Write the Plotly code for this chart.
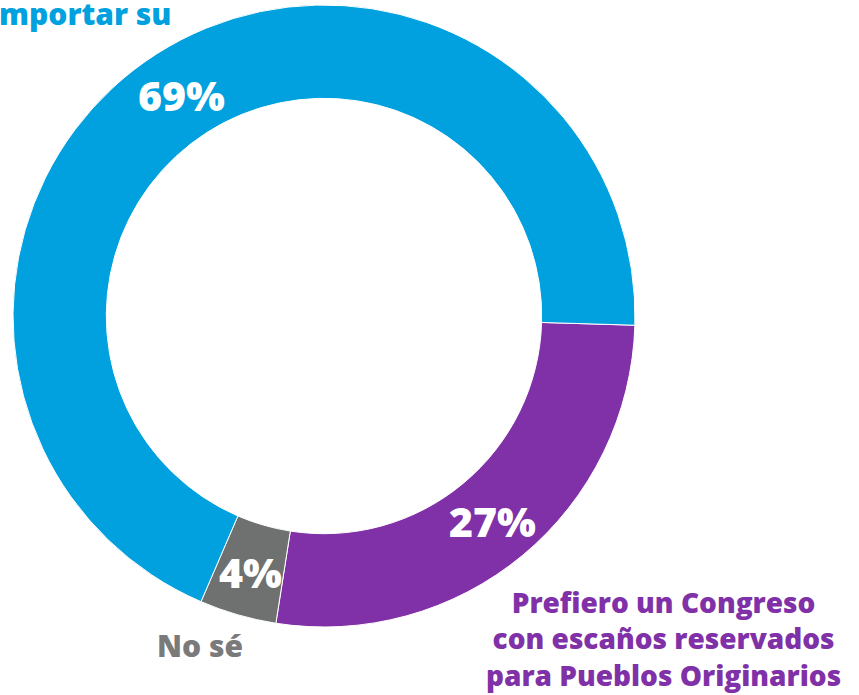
import math
import plotly.graph_objects as go

categories = ["Prefiero un Congreso con escaños reservados para Pueblos Originarios", "No sé", "Prefiero un Congreso sin importar su"]
values = [27, 4, 69]
colors = ["#8031A7", "#6F7170", "#00A1DE"]
slice_text = [f"{v}%" for v in values]
purple_lines = ["Prefiero un Congreso", "con escaños reservados", "para Pueblos Originarios"]

W, H = 859, 695
FONT = "Open Sans"
HOLE = 0.70
ROT = 91.7
CX, CY, R = 324, 316, 311  # pie centre / radius in pixels (domain)

fig = go.Figure(go.Pie(
    labels=categories,
    values=values,
    textinfo="none",
    hole=HOLE,
    sort=False,
    direction="clockwise",
    rotation=ROT,
    marker=dict(colors=colors, line=dict(color="white", width=1)),
    domain=dict(x=[(CX - R) / W, (CX + R) / W], y=[1 - (CY + R) / H, 1 - (CY - R) / H]),
    showlegend=False,
    hoverinfo="label+percent",
))

# percentage labels at the middle of each ring segment
total = sum(values)
start = ROT
rmid = R * (1 + HOLE) / 2
for v, t in zip(values, slice_text):
    span = 360 * v / total
    mid = math.radians(start + span / 2)  # clockwise from 12 o'clock
    px = CX + rmid * math.sin(mid)
    py = CY - rmid * math.cos(mid)
    fig.add_annotation(text=t, x=px / W, y=1 - (py + 2) / H, xref="paper", yref="paper",
                       xanchor="center", yanchor="middle", showarrow=False,
                       font=dict(family=FONT, size=41, color="white", weight=800))
    start += span

fig.add_annotation(text="mportar su", x=-3 / W, y=1 - 14 / H, xref="paper", yref="paper",
                   xanchor="left", yanchor="middle", showarrow=False,
                   font=dict(family=FONT, size=30, color="#00A1DE", weight=800))
fig.add_annotation(text="No sé", x=200 / W, y=1 - 645 / H, xref="paper", yref="paper",
                   xanchor="center", yanchor="middle", showarrow=False,
                   font=dict(family=FONT, size=30, color="#7A7A7A", weight=800))
fig.add_annotation(text="<br>".join(purple_lines), x=663 / W, y=1 - 638 / H, xref="paper", yref="paper",
                   xanchor="center", yanchor="middle", align="center", showarrow=False,
                   font=dict(family=FONT, size=28, color="#8031A7", weight=800))

fig.update_layout(
    width=W, height=H,
    margin=dict(l=0, r=0, t=0, b=0),
    paper_bgcolor="white",
    plot_bgcolor="white",
)

fig.write_html("out.html", config={"displayModeBar": False},
               post_script="document.body.style.margin='0px';document.body.style.overflow='hidden';")
